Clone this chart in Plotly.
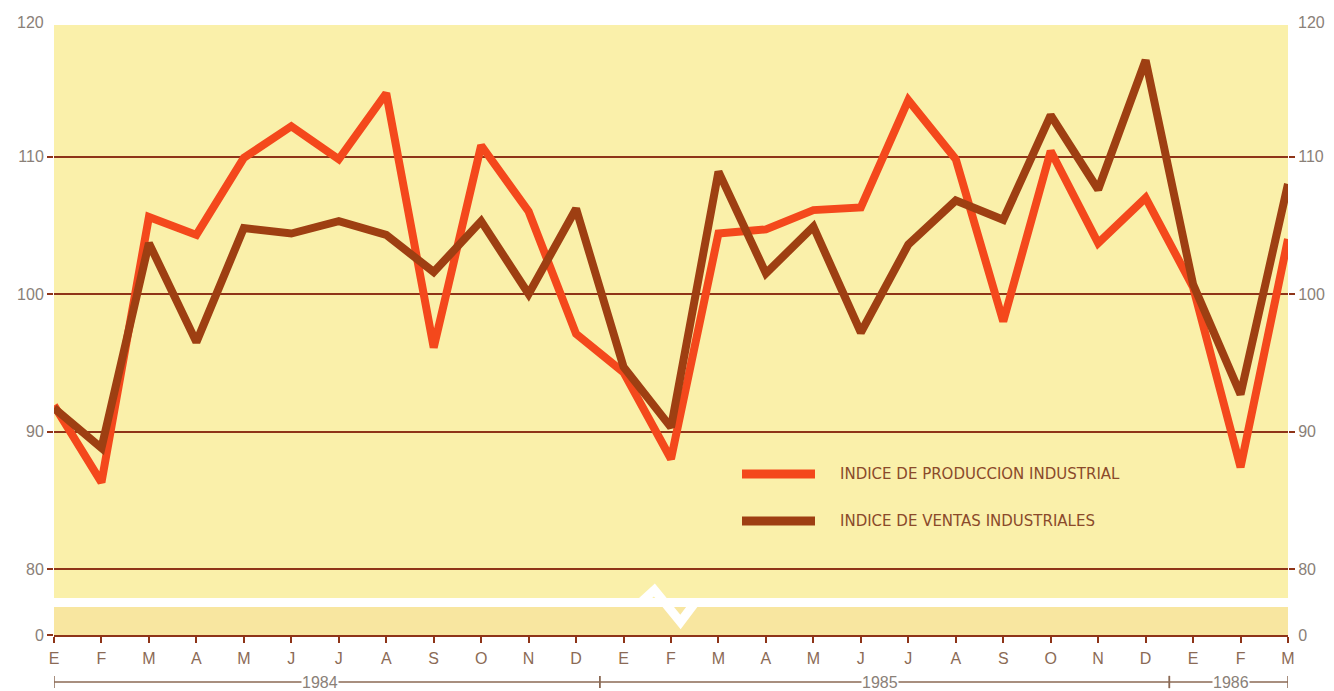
import plotly.graph_objects as go

months = ["E", "F", "M", "A", "M", "J", "J", "A", "S", "O", "N", "D",
          "E", "F", "M", "A", "M", "J", "J", "A", "S", "O", "N", "D",
          "E", "F", "M"]
x_idx = list(range(len(months)))

produccion = [91.9, 86.3, 105.6, 104.3, 109.9, 112.2, 109.8, 114.6, 96.1, 110.8, 106.0, 97.1,
              94.3, 88.0, 104.4, 104.7, 106.1, 106.3, 114.1, 109.8, 98.0, 110.4, 103.7, 107.0,
              100.5, 87.4, 104.0]
ventas = [91.7, 88.8, 103.7, 96.5, 104.8, 104.4, 105.3, 104.3, 101.6, 105.3, 100.0, 106.2,
          94.7, 90.3, 108.9, 101.5, 104.9, 97.2, 103.6, 106.8, 105.4, 113.0, 107.6, 117.0,
          100.7, 92.7, 108.0]

years = ["1984", "1985", "1986"]
year_spans = [(0, 11.5, 5.6), (11.5, 23.5, 17.4), (23.5, 26, 24.8)]

upper_ticks = [80, 90, 100, 110]

C_ORANGE = "#F4481C"
C_BROWN = "#9E3F12"
C_GRID = "#8E3418"
C_BG = "#FAF0AA"
C_BG2 = "#F8E6A0"
C_TXT = "#8A8078"
C_MONTH = "#8B6A55"
FONT = "Liberation Sans, Arial, sans-serif"
LFONT = "DejaVu Sans, Liberation Sans, sans-serif"

fig = go.Figure()
fig.add_trace(go.Scatter(x=x_idx, y=produccion, mode="lines", name="INDICE DE PRODUCCION INDUSTRIAL",
                         line=dict(color=C_ORANGE, width=8), xaxis="x", yaxis="y", showlegend=False))
fig.add_trace(go.Scatter(x=x_idx, y=ventas, mode="lines", name="INDICE DE VENTAS INDUSTRIALES",
                         line=dict(color=C_BROWN, width=8), xaxis="x", yaxis="y", showlegend=False))
# helper traces so the secondary axes get drawn
for ya in ["y2", "y3", "y4"]:
    fig.add_trace(go.Scatter(x=[None], y=[None], xaxis="x", yaxis=ya, showlegend=False,
                             hoverinfo="skip"))

# page body has an 8px margin, so the figure is sized/offset accordingly
OFF = 8
W, H = 1334 - OFF, 691 - OFF
PX_L, PX_R, PX_T, PX_B = 54, 1288, 25, 635  # plot area in screen pixels
L, T = PX_L - OFF, PX_T - OFF
R = W - (PX_R - OFF)
B = H - (PX_B - OFF)
ph = PX_B - PX_T
pw = PX_R - PX_L


def py(pix):
    return (PX_B - pix) / ph


def px(pix):
    return (pix - PX_L) / pw


up_dom = [py(598), 1.0]
lo_dom = [0.0, py(607)]
span = 573 / 13.75
y_lo = 80 - 29 / 13.75
upper_range = [y_lo, y_lo + span]

tickfont = dict(family=FONT, size=16, color=C_TXT)

fig.update_layout(
    template="none",
    width=W, height=H,
    margin=dict(l=L, r=R, t=T, b=B, autoexpand=False),
    paper_bgcolor="white",
    plot_bgcolor=C_BG,
    showlegend=False,
    font=dict(family=FONT),
    xaxis=dict(range=[0, 26], anchor="y2", tickvals=x_idx, ticktext=months, automargin=False,
               showgrid=False, zeroline=False, showline=True, linecolor=C_GRID, linewidth=2,
               ticks="outside", ticklen=6, tickwidth=2, tickcolor=C_GRID,
               tickfont=dict(family=FONT, size=16, color=C_MONTH), ticklabelstandoff=2),
    yaxis=dict(domain=up_dom, range=upper_range, tickvals=upper_ticks, anchor="x", automargin=False,
               showgrid=True, gridcolor=C_GRID, gridwidth=1.6, zeroline=False,
               ticks="outside", ticklen=6, tickcolor=C_GRID, tickwidth=1.6,
               tickfont=tickfont, showline=False),
    yaxis2=dict(domain=lo_dom, range=[0, 2], tickvals=[0], anchor="x", automargin=False,
                showgrid=False, zeroline=False, ticks="outside", ticklen=6,
                tickcolor=C_GRID, tickwidth=1.6, tickfont=tickfont, showline=False),
    yaxis3=dict(overlaying="y", side="right", range=upper_range, tickvals=upper_ticks,
                anchor="x", automargin=False, showgrid=False, zeroline=False, ticks="outside",
                ticklen=6, tickcolor=C_GRID, tickwidth=1.6, tickfont=tickfont, showline=False),
    yaxis4=dict(overlaying="y2", side="right", range=[0, 2], tickvals=[0], anchor="x",
                automargin=False, showgrid=False, zeroline=False, ticks="outside", ticklen=6,
                tickcolor="rgba(0,0,0,0)", tickfont=tickfont, showline=False),
)

shapes = []
# lower strip background
shapes.append(dict(type="rect", xref="x domain", yref="y2 domain", x0=0, x1=1, y0=0, y1=1,
                   fillcolor=C_BG2, line=dict(width=0), layer="below"))
# axis break zigzag
band = py(603)
zz = [(12.35, band), (12.65, py(590)), (13.2, py(622)), (13.5, band)]
path = "M " + " L ".join(f"{a},{b}" for a, b in zz)
shapes.append(dict(type="path", xref="x", yref="paper", path=path,
                   line=dict(color="white", width=9), layer="above"))
# year brackets
yb = py(682)
for (a, b, _) in year_spans:
    shapes.append(dict(type="line", xref="x", yref="paper", x0=a, x1=b, y0=yb, y1=yb,
                       line=dict(color=C_MONTH, width=1.3)))
    for e in (a, b):
        shapes.append(dict(type="line", xref="x", yref="paper", x0=e, x1=e,
                           y0=yb - 0.01, y1=yb + 0.01, line=dict(color=C_MONTH, width=1.5)))
# custom legend line samples
leg_y = [py(474), py(521)]
for yy, col in zip(leg_y, [C_ORANGE, C_BROWN]):
    shapes.append(dict(type="line", xref="paper", yref="paper",
                       x0=px(742), x1=px(815), y0=yy, y1=yy,
                       line=dict(color=col, width=9)))
fig.update_layout(shapes=shapes)

ann = []
for yr, (a, b, c) in zip(years, year_spans):
    ann.append(dict(x=c, y=yb, xref="x", yref="paper", text=yr, showarrow=False,
                    yanchor="middle", xanchor="center",
                    font=dict(family=FONT, size=16, color=C_TXT), bgcolor="white",
                    borderpad=0))
ann.append(dict(x=0, y=py(22), xref="paper", yref="paper", text="120", showarrow=False,
                xanchor="right", yanchor="middle", xshift=-8, font=tickfont))
ann.append(dict(x=1, y=py(22), xref="paper", yref="paper", text="120", showarrow=False,
                xanchor="left", yanchor="middle", xshift=8, font=tickfont))
leg_names = ["INDICE DE PRODUCCION INDUSTRIAL", "INDICE DE VENTAS INDUSTRIALES"]
for yy, nm in zip(leg_y, leg_names):
    ann.append(dict(x=px(838), y=yy, xref="paper", yref="paper", text=nm,
                    showarrow=False, xanchor="left", yanchor="middle",
                    font=dict(family=LFONT, size=15, color="#8A4A2A")))
fig.update_layout(annotations=ann)

fig.write_html("out.html")
